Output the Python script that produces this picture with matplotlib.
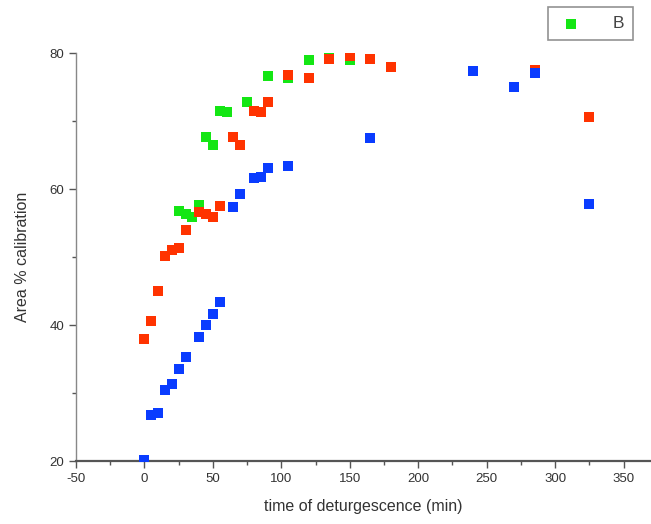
import matplotlib
matplotlib.use('Agg')
import matplotlib.pyplot as plt
from matplotlib.ticker import MultipleLocator

plt.rcParams['font.family'] = ['Liberation Sans', 'DejaVu Sans']
plt.rcParams['axes.unicode_minus'] = False

# series values
blue_t = [0, 5, 10, 15, 20, 25, 30, 40, 45, 50, 55, 65, 70, 80, 85, 90, 105, 165, 240, 270, 285, 325]
blue_v = [20.2, 26.7, 27.0, 30.5, 31.3, 33.6, 35.3, 38.3, 40.0, 41.6, 43.4, 57.4, 59.3, 61.6, 61.8, 63.1, 63.4, 67.5, 77.3, 75.0, 77.0, 57.8]

red_t = [0, 5, 10, 15, 20, 25, 30, 40, 45, 50, 55, 65, 70, 80, 85, 90, 105, 120, 135, 150, 165, 180, 285, 325]
red_v = [37.9, 40.6, 45.0, 50.1, 51.1, 51.4, 54.0, 56.6, 56.3, 55.9, 57.5, 67.6, 66.5, 71.5, 71.4, 72.8, 76.8, 76.4, 79.1, 79.5, 79.1, 78.0, 77.5, 70.6]

green_t = [0, 5, 10, 15, 20, 25, 30, 35, 40, 45, 50, 55, 60, 75, 90, 105, 120, 135, 150, 180, 325]
green_v = [37.9, 40.6, 45.0, 50.1, 51.1, 56.7, 56.3, 55.9, 57.6, 67.7, 66.5, 71.5, 71.4, 72.8, 76.6, 76.4, 79.0, 79.4, 79.0, 78.0, 70.6]

fig = plt.figure(figsize=(6.51, 5.24), dpi=100)
ax = fig.add_axes([0.1167, 0.1202, 0.8833, 0.7786])

ax.scatter(green_t, green_v, marker='s', s=42, color='#14e614', linewidths=0, label='B', zorder=3)
ax.scatter(red_t, red_v, marker='s', s=42, color='#ff3300', linewidths=0, zorder=4)
ax.scatter(blue_t, blue_v, marker='s', s=42, color='#0a3cff', linewidths=0, zorder=5)

ax.set_xlim(-50, 370)
ax.set_ylim(20, 80)
ax.xaxis.set_major_locator(MultipleLocator(50))
ax.xaxis.set_minor_locator(MultipleLocator(25))
ax.yaxis.set_major_locator(MultipleLocator(20))
ax.yaxis.set_minor_locator(MultipleLocator(10))

for side in ['top', 'right']:
  ax.spines[side].set_visible(False)
ax.spines['bottom'].set_color('#555555')
ax.spines['bottom'].set_linewidth(1.6)
ax.spines['left'].set_color('#888888')
ax.spines['left'].set_linewidth(1.0)

ax.tick_params(which='major', direction='out', length=5, width=1.0, color='#555555',
               labelsize=9.5, labelcolor='#333333')
ax.tick_params(which='minor', direction='out', length=3, width=1.0, color='#555555')
ax.patch.set_alpha(0)

ax.set_xlabel('time of deturgescence (min)', fontsize=11.5, color='#333333', labelpad=10)
ax.set_ylabel('Area % calibration', fontsize=11.5, color='#333333', labelpad=14)

leg = ax.legend(loc='upper right', bbox_to_anchor=(0.983, 1.133), frameon=True, fontsize=12.5,
                handletextpad=1.6, borderpad=0.5, handlelength=1.6, fancybox=False)
leg.get_frame().set_edgecolor('#777777')
leg.get_frame().set_linewidth(1.2)
for t in leg.get_texts():
  t.set_color('#444444')

fig.savefig('out.png', dpi=100)
